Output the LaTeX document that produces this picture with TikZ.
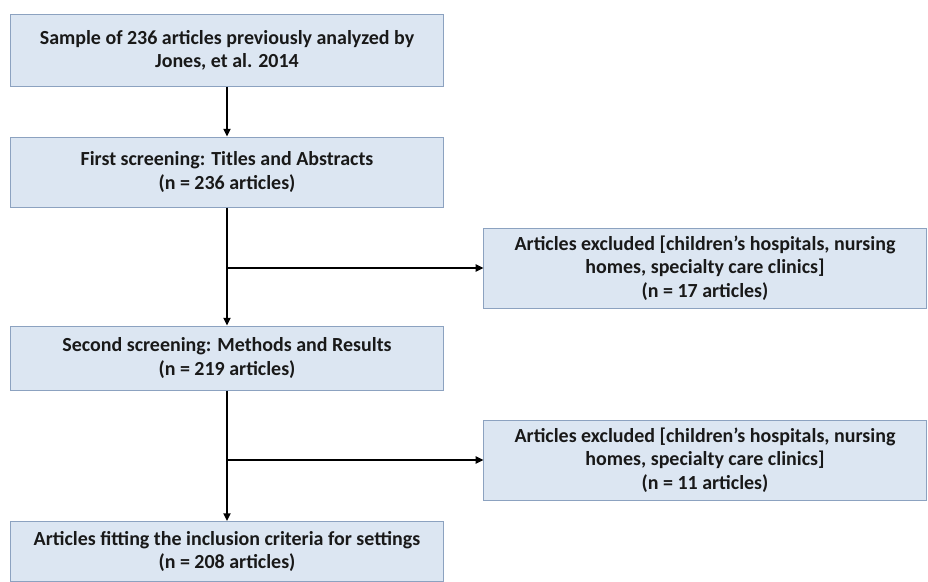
\documentclass[tikz,border=0pt]{standalone}
\usepackage{fontspec}
\setmainfont{Carlito}
\usetikzlibrary{arrows.meta, positioning}
\definecolor{azulclaro}{RGB}{220,230,242}
\definecolor{borde}{RGB}{140,162,192}

\begin{document}
\begin{tikzpicture}[x=0.025cm, y=-0.025cm,
        caja/.style={rectangle, draw=borde, fill=azulclaro, line width=0.7pt, minimum width=10.8cm, align=center, text=black!90, font=\fontsize{14.2}{16.6}\selectfont\bfseries},
        excluido/.style={caja, minimum width=11.05cm, minimum height=2cm},
        linea/.style={line width=1.3pt, -{Triangle[length=5.5pt, width=5pt]}}]

        \useasboundingbox (0,0) rectangle (928,581);

        \node[caja, minimum height=1.8cm] (muestra) at (227,50) {Sample of 236 articles previously analyzed by\\Jones, et al. 2014};
        \node[caja, minimum height=1.75cm] (cribado1) at (227,172) {First screening: Titles and Abstracts\\(n = 236 articles)};
        \node[caja, minimum height=1.6cm] (cribado2) at (227,358) {Second screening: Methods and Results\\(n = 219 articles)};
        \node[caja, anchor=north, inner ysep=0.25cm] (incluidos) at (227,521) {Articles fitting the inclusion criteria for settings\\(n = 208 articles)};

        \node[excluido] (excl1) at (705,268) {Articles excluded [children’s hospitals, nursing\\homes, specialty care clinics]\\(n = 17 articles)};
        \node[excluido] (excl2) at (705,460) {Articles excluded [children’s hospitals, nursing\\homes, specialty care clinics]\\(n = 11 articles)};

        \draw[linea] (muestra) -- (cribado1);
        \draw[linea] (cribado1) -- (cribado2);
        \draw[linea] (cribado2) -- (incluidos);

        % Ramas de exclusion
        \coordinate (r1) at (cribado1.south |- excl1.west);
        \coordinate (r2) at (cribado2.south |- excl2.west);
        \draw[linea] (r1) -- (excl1);
        \draw[linea] (r2) -- (excl2);
    \end{tikzpicture}
\end{document}
